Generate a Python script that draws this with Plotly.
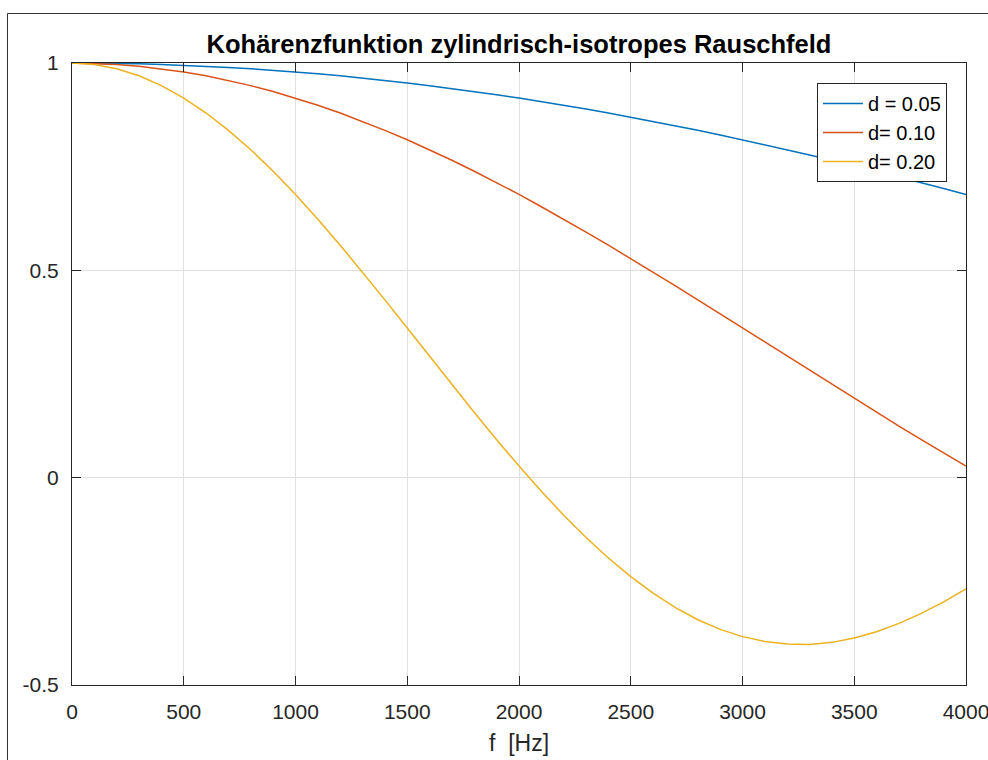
import plotly.graph_objects as go

freq = [i * 100 for i in range(41)]

coh_d005 = [1.0, 0.9998, 0.9991, 0.9981, 0.9965, 0.9946, 0.9922, 0.9894, 0.9862, 0.9826,
            0.9785, 0.9740, 0.9691, 0.9638, 0.9581, 0.9520, 0.9454, 0.9385, 0.9312, 0.9235,
            0.9154, 0.9069, 0.8981, 0.8889, 0.8794, 0.8694, 0.8592, 0.8486, 0.8376, 0.8264,
            0.8148, 0.8029, 0.7907, 0.7782, 0.7655, 0.7523, 0.7389, 0.7253, 0.7113, 0.6974,
            0.6831]

coh_d010 = [1.0, 0.9991, 0.9965, 0.9922, 0.9862, 0.9785, 0.9691, 0.9581, 0.9454, 0.9312,
            0.9154, 0.8981, 0.8794, 0.8592, 0.8376, 0.8148, 0.7907, 0.7655, 0.7389, 0.7113,
            0.6831, 0.6534, 0.6234, 0.5922, 0.5607, 0.5283, 0.4956, 0.4624, 0.4288, 0.3950,
            0.3609, 0.3267, 0.2925, 0.2584, 0.2244, 0.1907, 0.1572, 0.1241, 0.0915, 0.0592,
            0.0279]

coh_d020 = [1.0, 0.9965, 0.9862, 0.9691, 0.9454, 0.9154, 0.8794, 0.8376, 0.7907, 0.7389,
            0.6831, 0.6234, 0.5607, 0.4956, 0.4288, 0.3609, 0.2925, 0.2244, 0.1572, 0.0915,
            0.0279, -0.0329, -0.0906, -0.1444, -0.1938, -0.2386, -0.2785, -0.3132, -0.3426, -0.3659,
            -0.3834, -0.3952, -0.4013, -0.4021, -0.3972, -0.3868, -0.3714, -0.3514, -0.3273, -0.2994,
            -0.2681]

series_names = ["d = 0.05", "d= 0.10", "d= 0.20"]
series_colors = ["#0072BD", "#D95319", "#EDB120"]

x_ticks = [0, 500, 1000, 1500, 2000, 2500, 3000, 3500, 4000]
y_ticks = [-0.5, 0, 0.5, 1]
y_tick_text = ["-0.5", "0", "0.5", "1"]

FONT = "Liberation Sans, Arial, Helvetica, sans-serif"
AXC = "#262626"

fig = go.Figure()
for ys, name, col in zip([coh_d005, coh_d010, coh_d020], series_names, series_colors):
    fig.add_trace(go.Scatter(x=freq, y=ys, mode="lines", name=name,
                             line=dict(color=col, width=1.5)))

axis_common = dict(
    showline=True, linecolor=AXC, linewidth=1.2, mirror="ticks",
    ticks="inside", ticklen=9, tickwidth=1.2, tickcolor=AXC,
    showgrid=True, gridcolor="#dfdfdf", gridwidth=1,
    zeroline=False, ticklabeloverflow="allow",
    tickfont=dict(family=FONT, size=21, color=AXC),
)

fig.update_layout(
    width=988, height=760,
    margin=dict(l=72, r=22, t=63, b=75, autoexpand=False),
    paper_bgcolor="white", plot_bgcolor="white",
    font=dict(family=FONT, color=AXC),
    title=dict(text="<b>Kohärenzfunktion zylindrisch-isotropes Rauschfeld</b>",
               x=0.5, xref="paper", y=1 - 44 / 760, yref="container",
               xanchor="center", yanchor="middle",
               font=dict(family=FONT, size=25.5, color="black")),
    xaxis=dict(range=[0, 4000], tickvals=x_ticks, ticklabelstandoff=8,
               title=dict(text="f\u00a0\u00a0[Hz]", font=dict(family=FONT, size=23, color=AXC), standoff=12),
               **axis_common),
    yaxis=dict(range=[-0.5, 1], tickvals=y_ticks, ticktext=y_tick_text, ticklabelstandoff=8,
               **axis_common),
    legend=dict(x=0.9787, y=0.968, xanchor="right", yanchor="top",
                bgcolor="white", bordercolor=AXC, borderwidth=1,
                font=dict(family=FONT, size=20, color="black"),
                tracegroupgap=0, itemwidth=40),
    shapes=[dict(type="rect", xref="paper", yref="paper",
                 x0=(7.5 - 72) / 894, x1=1.2, y0=-0.3, y1=(685 - 13.5) / 622,
                 line=dict(color="#333333", width=1), fillcolor="rgba(0,0,0,0)", layer="above")],
)

fig.write_html("out.html")
